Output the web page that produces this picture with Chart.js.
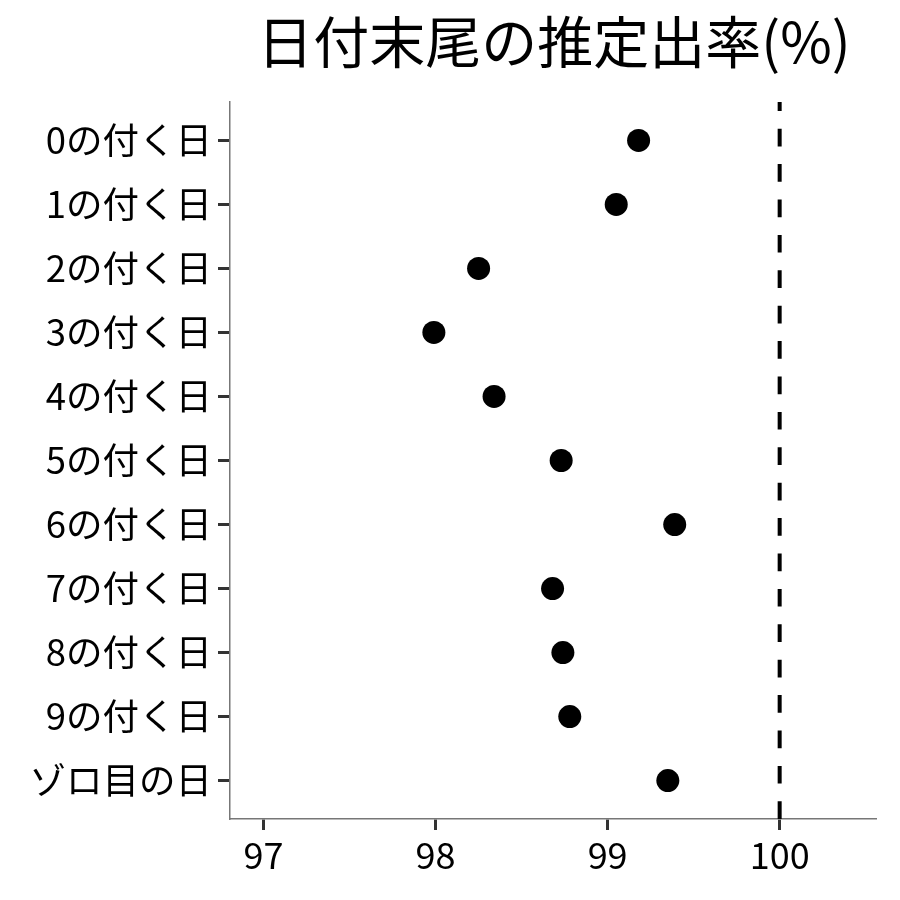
<!DOCTYPE html>
<html>
<head>
<meta charset="utf-8">
<script src="https://cdn.jsdelivr.net/npm/chart.js@4.4.1/dist/chart.umd.min.js"></script>
<style>
  html, body { margin: 0; padding: 0; background: #fff; }
  #wrap { width: 900px; height: 900px; }
</style>
</head>
<body>
<div id="wrap"><canvas id="rateChart" width="900" height="900"></canvas></div>
<script>
const titleText = "日付末尾の推定出率(%)";

const categories = [
    "0の付く日", "1の付く日", "2の付く日", "3の付く日", "4の付く日",
    "5の付く日", "6の付く日", "7の付く日", "8の付く日", "9の付く日", "ゾロ目の日"
];
const rates = [99.18, 99.05, 98.25, 97.99, 98.34, 98.73, 99.39, 98.68, 98.74, 98.78, 99.35];
const xTicks = [97, 98, 99, 100];
const refLine = 100;

const fontFamily = "'Noto Sans CJK JP', 'Noto Sans', sans-serif";

// title centred over the panel, like ggplot
const panelTitle = {
    id: 'panelTitle',
    afterDraw(chart) {
        const { ctx, chartArea } = chart;
        ctx.save();
        ctx.fillStyle = '#000';
        ctx.font = `56px ${fontFamily}`;
        ctx.textAlign = 'center';
        ctx.textBaseline = 'middle';
        ctx.fillText(titleText, (chartArea.left + chartArea.right) / 2 + 1, 42);
        ctx.restore();
    }
};

const rateChart = new Chart(document.getElementById("rateChart"), {
    type: "scatter",
    data: {
        datasets: [
            {
                label: "推定出率",
                data: rates.map((v, i) => ({ x: v, y: i })),
                backgroundColor: "#000",
                borderWidth: 0,
                pointRadius: 11.5,
                pointHoverRadius: 11.5,
            },
            {
                type: "line",
                label: "100%",
                // bottom -> top so the dash phase starts at the axis
                data: [{ x: refLine, y: 10.6 }, { x: refLine, y: -0.6 }],
                borderColor: "#000",
                borderWidth: 4,
                borderDash: [17.7, 17.7],
                pointRadius: 0,
                fill: false,
            }
        ]
    },
    options: {
        responsive: false,
        animation: false,
        layout: {
            padding: { top: 102, right: 24, left: 0, bottom: 0 }
        },
        plugins: {
            legend: { display: false },
            title: { display: false },
            tooltip: { enabled: false }
        },
        scales: {
            x: {
                type: "linear",
                min: 96.805,
                max: 100.56,
                afterBuildTicks: (scale) => {
                    scale.ticks = xTicks.map(v => ({ value: v }));
                },
                afterFit: (scale) => { scale.height = 81; },
                grid: {
                    drawOnChartArea: false,
                    drawTicks: true,
                    tickLength: 11,
                    tickWidth: 3,
                    tickColor: "#333"
                },
                border: { display: true, color: "#777", width: 1.5 },
                ticks: {
                    color: "#000",
                    padding: 4,
                    font: { family: fontFamily, size: 36 }
                }
            },
            y: {
                type: "linear",
                reverse: true,
                min: -0.6,
                max: 10.6,
                afterBuildTicks: (scale) => {
                    scale.ticks = categories.map((_, i) => ({ value: i }));
                },
                afterFit: (scale) => { scale.width = 230; },
                grid: {
                    drawOnChartArea: false,
                    drawTicks: true,
                    tickLength: 12,
                    tickWidth: 3,
                    tickColor: "#333"
                },
                border: { display: true, color: "#777", width: 1.5 },
                ticks: {
                    color: "#000",
                    padding: 6,
                    font: { family: fontFamily, size: 36.5 },
                    callback: (value) => categories[value]
                }
            }
        }
    },
    plugins: [panelTitle]
});
</script>
</body>
</html>
